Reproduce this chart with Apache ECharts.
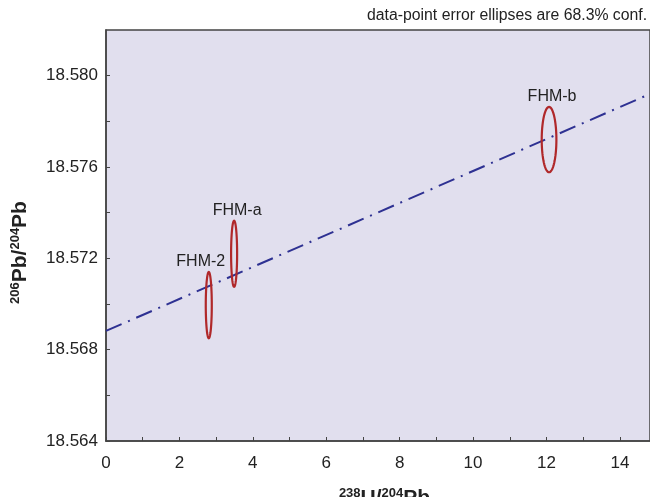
<!DOCTYPE html>
<html>
<head>
<meta charset="utf-8">
<script src="https://cdn.jsdelivr.net/npm/echarts@6/dist/echarts.min.js"></script>
<style>
html,body{margin:0;padding:0;background:#fff;}
#chart{width:650px;height:497px;}
</style>
</head>
<body>
<div id="chart"></div>
<script>
// Samples (error ellipses, 68.3% conf.)
const sampleNames = ['FHM-2', 'FHM-a', 'FHM-b'];
const ratioU238Pb204 = [2.80, 3.49, 12.07];
const ratioPb206Pb204 = [18.56995, 18.5722, 18.5772];
const errU238Pb204 = [0.082, 0.082, 0.20];         // ellipse half-widths
const errPb206Pb204 = [0.00145, 0.00145, 0.00143]; // ellipse half-heights

// Regression line end points
const lineX = [0, 14.82];
const lineY = [18.56882, 18.5792];

// Axis ranges / ticks
const xMin = 0, xMax = 14.82, xTickStep = 1, xLabelStep = 2;
const yMin = 18.564, yMax = 18.582, yTickStep = 0.002, yLabelStep = 0.004;

const ellipseData = sampleNames.map((n, i) => [ratioU238Pb204[i], ratioPb206Pb204[i], errU238Pb204[i], errPb206Pb204[i], i]);
const lineData = lineX.map((x, i) => [x, lineY[i]]);

const labelDx = [-8, 3, 3];
const FONT = 'Liberation Sans, Arial, Helvetica, sans-serif';

const titleRich = {
  b: { fontFamily: FONT, fontSize: 21, fontWeight: 'bold', color: '#222', verticalAlign: 'bottom' },
  n: { fontFamily: FONT, fontSize: 13, fontWeight: 'bold', color: '#222', verticalAlign: 'top', padding: [0, 0, 9, 0] }
};

const chart = echarts.init(document.getElementById('chart'));
chart.setOption({
  animation: false,
  backgroundColor: '#ffffff',
  title: {
    text: 'data-point error ellipses are 68.3% conf.',
    left: 362, top: 3,
    textStyle: { fontFamily: FONT, fontSize: 15.8, fontWeight: 'normal', color: '#222' }
  },
  grid: {
    left: 106, top: 30, bottom: 56, right: 0,
    outerBoundsMode: 'none',
    containLabel: false,
    show: true, backgroundColor: '#e1dfee', borderColor: '#444', borderWidth: 1.5
  },
  xAxis: {
    type: 'value', min: xMin, max: xMax, interval: xTickStep,
    name: '{n|238}{b|U/}{n|204}{b|Pb}',
    nameLocation: 'middle', nameGap: 46,
    nameTextStyle: { padding: [0, 0, 0, 13], rich: titleRich },
    axisLine: { show: true, onZero: false, lineStyle: { color: '#444', width: 1.5 } },
    axisTick: { show: true, inside: true, length: 4, lineStyle: { color: '#444' } },
    splitLine: { show: false },
    axisLabel: {
      showMaxLabel: false, margin: 14,
      formatter: v => (Math.round(v) % xLabelStep === 0 ? String(Math.round(v)) : ''),
      fontFamily: FONT, fontSize: 17, color: '#222'
    }
  },
  yAxis: {
    type: 'value', min: yMin, max: yMax, interval: yTickStep,
    name: '{n|206}{b|Pb/}{n|204}{b|Pb}',
    nameLocation: 'middle', nameGap: 75,
    nameTextStyle: { padding: [0, 34, 0, 0], rich: titleRich },
    axisLine: { show: true, onZero: false, lineStyle: { color: '#444', width: 1.5 } },
    axisTick: { show: true, inside: true, length: 4, lineStyle: { color: '#444' } },
    splitLine: { show: false },
    axisLabel: {
      showMaxLabel: false, margin: 8,
      formatter: v => (Math.round(v * 1000) % Math.round(yLabelStep * 1000) === 0 ? v.toFixed(3) : ''),
      fontFamily: FONT, fontSize: 17, color: '#222'
    }
  },
  series: [
    {
      type: 'line',
      data: lineData,
      symbol: 'none',
      z: 2,
      lineStyle: { color: '#2e3192', width: 2, type: [17, 7, 2, 7] }
    },
    {
      type: 'custom',
      z: 3,
      data: ellipseData,
      encode: { x: 0, y: 1 },
      renderItem: function (params, api) {
        const cx = api.value(0), cy = api.value(1), hx = api.value(2), hy = api.value(3), idx = api.value(4);
        const pts = [];
        const N = 72;
        for (let k = 0; k < N; k++) {
          const t = 2 * Math.PI * k / N;
          pts.push(api.coord([cx + hx * Math.cos(t), cy + hy * Math.sin(t)]));
        }
        const top = api.coord([cx, cy + hy]);
        return {
          type: 'group',
          children: [
            { type: 'polygon', shape: { points: pts }, style: { fill: 'none', stroke: '#b0282a', lineWidth: 2.2 } },
            { type: 'text', x: top[0] + labelDx[idx], y: top[1] - 2,
              style: { text: sampleNames[idx], fill: '#222', fontSize: 16, fontFamily: FONT, align: 'center', verticalAlign: 'bottom' } }
          ]
        };
      }
    }
  ]
});
</script>
</body>
</html>
